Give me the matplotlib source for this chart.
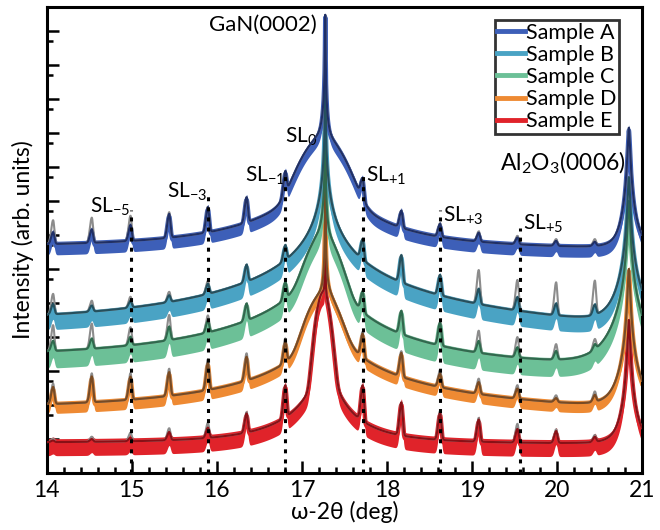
import numpy as np
import matplotlib
matplotlib.use("Agg")
import matplotlib.pyplot as plt
from matplotlib.ticker import FixedLocator, NullFormatter, MultipleLocator
from matplotlib.lines import Line2D

plt.rcParams['font.family'] = ['Lato', 'DejaVu Sans']
plt.rcParams['mathtext.fontset'] = 'custom'
plt.rcParams['mathtext.rm'] = 'Lato'
plt.rcParams['mathtext.it'] = 'Lato'
plt.rcParams['mathtext.default'] = 'regular'

# ---------------- data ----------------
samples = ['Sample A', 'Sample B', 'Sample C', 'Sample D', 'Sample E']
meas_colors = ['#3d5fb8', '#4aa3c4', '#6cc097', '#ee8a33', '#e0232a']
fit_colors = ['#1f2f66', '#24505e', '#2f6a4d', '#7a4a22', '#8a1016']
sim_color = '#8c8c8c'

# superlattice satellites
sl_center = 17.26
sl_period = 0.455
sl_orders = [-7, -6, -5, -4, -3, -2, -1, 1, 2, 3, 4, 5, 6, 7]

# background: log10 intensity at 14 deg and slope (decades / deg)
base_level = [6.62, 4.30, 3.30, 1.80, 0.88]
base_slope = [-0.01, -0.07, -0.057, -0.03, -0.005]

# GaN(0002) substrate peak (log10 values)
gan_pos = 17.275
gan_height = [13.47, 11.9, 10.9, 10.4, 10.0]
gan_tail_left = [7.88, 6.20, 5.05, 3.18, 1.50]   # at 0.5 deg below the peak
gan_tail_right = [7.66, 6.15, 4.60, 3.28, 1.30]  # at 0.5 deg above the peak
gan_exponent = [1.11, 1.10, 1.10, 0.95, 1.10]

# SL0 zeroth-order hump
sl0_pos = 17.25
sl0_height = [9.8, 0.0, 6.9, 5.2, 5.3]
sl0_sigma = [0.15, 0.10, 0.11, 0.11, 0.045]

# Al2O3(0006) peak
al_pos = 20.845
al_height = [10.15, 8.7, 8.0, 6.0, 4.5]
al_width = 0.0108
al_exponent = 1.45

# satellite heights in decades above the background, orders -7..-1, +1..+7
sat_meas = [
    [0.35, 0.40, 0.47, 0.70, 0.74, 0.74, 0.65, 0.60, 0.50, 0.38, 0.26, 0.20, 0.15, 0.12],
    [0.30, 0.18, 0.20, 0.20, 0.30, 0.50, 0.44, 0.60, 0.80, 0.60, 0.45, 0.40, 0.35, 0.30],
    [0.30, 0.30, 0.25, 0.40, 0.35, 0.50, 0.50, 0.60, 0.68, 0.68, 0.35, 0.30, 0.25, 0.15],
    [0.50, 0.76, 0.68, 0.70, 0.80, 0.70, 0.60, 0.70, 0.70, 0.40, 0.35, 0.30, 0.12, 0.20],
    [0.05, 0.08, 0.10, 0.24, 0.30, 0.56, 0.94, 1.05, 0.97, 0.80, 0.65, 0.40, 0.35, 0.15],
]
sat_sim = [
    [0.70, 0.74, 0.74, 0.75, 0.75, 0.74, 0.65, 0.60, 0.50, 0.40, 0.30, 0.25, 0.20, 0.20],
    [0.60, 0.32, 0.32, 0.30, 0.38, 0.50, 0.44, 0.60, 0.80, 0.60, 1.00, 0.90, 0.97, 1.00],
    [0.76, 0.74, 0.53, 0.74, 0.50, 0.50, 0.50, 0.60, 0.68, 0.68, 0.65, 0.60, 0.45, 0.30],
    [0.60, 0.85, 0.78, 0.80, 0.90, 0.80, 0.70, 0.75, 0.75, 0.50, 0.45, 0.40, 0.20, 0.30],
    [0.10, 0.15, 0.25, 0.35, 0.44, 0.60, 0.94, 1.05, 0.97, 0.85, 0.70, 0.55, 0.40, 0.20],
]

# spread of the noisy measured trace (decades below / above the smooth trace)
noise_below = [0.32, 0.45, 0.50, 0.28, 0.40]
noise_above = [0.08, 0.06, 0.06, 0.08, 0.10]

# dashed marker lines for SL orders and their top (log10)
sl_line_pos = [14.99, 15.895, 16.805, 17.715, 18.625, 19.56]
sl_line_top = [7.74, 8.24, 8.82, 8.82, 7.74, 7.20]

sl_labels = ['SL$_{-5}$', 'SL$_{-3}$', 'SL$_{-1}$', 'SL$_{0}$', 'SL$_{+1}$', 'SL$_{+3}$', 'SL$_{+5}$']
sl_label_x = [14.51, 15.42, 16.33, 16.80, 17.75, 18.66, 19.60]
sl_label_y = [7.65, 8.09, 8.56, 9.71, 8.56, 7.40, 7.15]

x = np.sort(np.concatenate([np.linspace(14, 21, 7001), [gan_pos, al_pos]]))


def continuum(i):
    base = 10 ** (base_level[i] + base_slope[i] * (x - 14))
    d = x - gan_pos
    L = np.where(d < 0, gan_tail_left[i], gan_tail_right[i])
    m = gan_exponent[i]
    w = 0.5 / np.sqrt(10 ** ((gan_height[i] - L) / m) - 1)
    gan = 10 ** L * ((0.25 + w ** 2) / (d ** 2 + w ** 2)) ** m
    total = base + gan
    if sl0_height[i] > 0:
        total = total + 10 ** sl0_height[i] * np.exp(-(x - sl0_pos) ** 2 / (2 * sl0_sigma[i] ** 2))
    total = total + 10 ** al_height[i] / (1 + ((x - al_pos) / al_width) ** 2) ** al_exponent
    return np.log10(total)


def with_satellites(logy, heights):
    out = logy.copy()
    for order, h in zip(sl_orders, heights):
        xk = sl_center + order * sl_period
        sig = np.where(x < xk, 0.022, 0.015)
        out = out + h * np.exp(-(x - xk) ** 2 / (2 * sig ** 2))
    return out


fig = plt.figure(figsize=(6.6, 5.3), dpi=100)
ax = fig.add_axes([0.0708, 0.1075, 0.902, 0.8793])

for i in reversed(range(5)):
    cont = continuum(i)
    meas = with_satellites(cont, sat_meas[i])
    sim = with_satellites(cont, sat_sim[i])
    ax.fill_between(x, 10 ** (meas - noise_below[i]), 10 ** (meas + noise_above[i]),
                    color=meas_colors[i], lw=0, zorder=2)
    ax.plot(x, 10 ** (meas - 0.08), color=meas_colors[i], lw=3.2, zorder=2)
    ax.plot(x, 10 ** sim, color=sim_color, lw=1.5, zorder=3)
    ax.plot(x, 10 ** meas, color=fit_colors[i], lw=1.5, zorder=4)

for xp, top in zip(sl_line_pos, sl_line_top):
    ax.plot([xp, xp], [1, 10 ** top], color='black', lw=2.2,
            linestyle=(0, (1.3, 2.0)), zorder=6)

ax.set_xlim(14, 21)
ax.set_yscale('log')
ax.set_ylim(1, 10 ** 13.7)

ax.yaxis.set_major_locator(FixedLocator([10.0 ** k for k in range(1, 14)]))
ax.yaxis.set_minor_locator(FixedLocator([5 * 10.0 ** k for k in range(0, 13)]))
ax.yaxis.set_major_formatter(NullFormatter())
ax.yaxis.set_minor_formatter(NullFormatter())
ax.xaxis.set_major_locator(MultipleLocator(1))
ax.xaxis.set_minor_locator(MultipleLocator(0.2))

ax.tick_params(which='both', direction='in', top=False, right=False, width=1.8, labelsize=16.5)
ax.tick_params(which='major', length=8.5, pad=5)
ax.tick_params(which='minor', length=4.3)
for s in ax.spines.values():
    s.set_linewidth(2.2)

ax.set_xlabel('ω-2θ (deg)', fontsize=16.5, labelpad=0)
ax.set_ylabel('Intensity (arb. units)', fontsize=16.5, labelpad=4)

ax.text(17.18, 10 ** 13.0, 'GaN(0002)', ha='right', va='baseline', fontsize=16)
for lab, lx, ly in zip(sl_labels, sl_label_x, sl_label_y):
    ax.text(lx, 10 ** ly, lab, ha='left', va='baseline', fontsize=15)
ax.text(19.33, 10 ** 8.91, 'Al$_2$O$_3$(0006)', ha='left', va='baseline', fontsize=16.5)

handles = [Line2D([0], [0], color=c, lw=3.5) for c in meas_colors]
leg = ax.legend(handles, samples, loc='upper right', bbox_to_anchor=(0.962, 0.972),
                fontsize=15.5, frameon=True, fancybox=False, borderaxespad=0,
                handlelength=1.3, handletextpad=0.05, labelspacing=0.1,
                borderpad=0.12)
leg.get_frame().set_edgecolor('black')
leg.get_frame().set_linewidth(2.0)
leg.set_zorder(10)

fig.savefig('out.png', dpi=100)
